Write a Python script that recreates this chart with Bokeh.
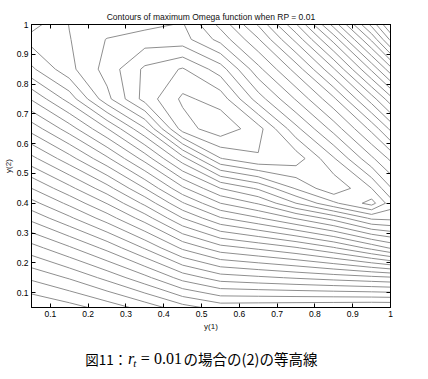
import numpy as np
from bokeh.plotting import figure
from bokeh.layouts import column
from bokeh.models import Range1d, LinearAxis, FixedTicker, Label
from bokeh.embed import file_html
from bokeh.resources import INLINE

# grid of y(1) (columns) and y(2) (rows)
y1_grid = [0.05, 0.15, 0.25, 0.35, 0.45, 0.55, 0.65, 0.75, 0.85, 0.95, 1.0]
y2_grid = [0.05, 0.15, 0.25, 0.35, 0.40, 0.45, 0.55, 0.65, 0.75, 0.85, 0.95, 1.0]

# estimated maximum-Omega values (in contour-level units), one row per y(2)
omega_y2_005 = [29.0, 28.4, 27.6, 26.6, 25.4, 24.6, 24.7, 24.8, 24.9, 25.0, 25.0]
omega_y2_015 = [26.8, 25.9, 24.7, 23.3, 21.6, 20.5, 20.2, 19.9, 19.6, 19.3, 19.15]
omega_y2_025 = [24.4, 23.15, 21.7, 19.9, 17.8, 16.4, 15.8, 15.1, 14.1, 12.7, 11.9]
omega_y2_035 = [21.7, 20.2, 18.5, 16.5, 14.0, 12.1, 11.1, 9.9, 8.6, 6.8, 6.7]
omega_y2_040 = [20.35, 18.75, 16.95, 14.75, 12.1, 10.0, 8.9, 7.0, 5.2, 3.6, 5.5]
omega_y2_045 = [19.0, 17.3, 15.4, 13.0, 10.2, 8.0, 6.85, 4.9, 3.2, 5.0, 6.9]
omega_y2_055 = [16.3, 14.4, 12.2, 9.6, 6.4, 3.05, 2.1, 2.4, 4.9, 7.8, 9.2]
omega_y2_065 = [13.6, 11.5, 9.05, 6.1, 1.5, 0.3, 1.6, 4.7, 7.4, 10.3, 12.2]
omega_y2_075 = [10.9, 8.6, 5.3, 2.6, 0.8, 1.4, 4.5, 7.1, 9.8, 13.5, 15.6]
omega_y2_085 = [8.2, 6.3, 4.6, 2.8, 1.9, 3.5, 6.7, 9.4, 12.9, 17.2, 19.6]
omega_y2_095 = [6.6, 6.05, 4.95, 4.5, 4.6, 6.35, 8.9, 12.3, 16.4, 21.2, 24.2]
omega_y2_100 = [7.4, 5.97, 5.6, 5.3, 4.9, 7.3, 10.1, 13.9, 18.4, 23.3, 26.1]

contour_levels = list(range(1, 30))

tick_values = [0.1, 0.2, 0.3, 0.4, 0.5, 0.6, 0.7, 0.8, 0.9, 1.0]
tick_labels = ["0.1", "0.2", "0.3", "0.4", "0.5", "0.6", "0.7", "0.8", "0.9", "1"]

title_text = "Contours of maximum Omega function when RP = 0.01"
x_label = "y(1)"
y_label = "y(2)"
caption_fig = "図11："
caption_r = "r"
caption_t = "t"
caption_eq = "= 0.01"
caption_rest = "の場合の(2)の等高線"

z = np.array([omega_y2_005, omega_y2_015, omega_y2_025, omega_y2_035, omega_y2_040,
              omega_y2_045, omega_y2_055, omega_y2_065, omega_y2_075, omega_y2_085,
              omega_y2_095, omega_y2_100])

FONT = "Liberation Sans"

p = figure(frame_width=359, frame_height=283,
           x_range=Range1d(0.05, 1.0), y_range=Range1d(0.05, 1.0),
           output_backend="svg", toolbar_location=None,
           min_border_left=24, min_border_right=29, min_border_top=24, min_border_bottom=26,
           background_fill_color="white", border_fill_color="white",
           title=title_text)
p.outline_line_color = "black"
p.grid.visible = False
p.title.align = "center"
p.title.text_font = FONT
p.title.text_font_size = "8.5px"
p.title.text_font_style = "normal"
p.title.text_color = "#111111"
p.title.standoff = 5
p.title.offset = 0

p.contour(x=np.array(y1_grid), y=np.array(y2_grid), z=z, levels=contour_levels,
          line_color="#8f8f8f", line_width=1)

overrides = {v: s for v, s in zip(tick_values, tick_labels)}

def style_axis(ax, show_labels=True):
    ax.ticker = FixedTicker(ticks=tick_values)
    ax.major_tick_in = 4
    ax.major_tick_out = 0
    ax.minor_tick_line_color = None
    ax.axis_line_color = "black"
    ax.major_tick_line_color = "black"
    ax.major_label_overrides = overrides
    if show_labels:
        ax.major_label_text_font = FONT
        ax.major_label_text_font_size = "8.5px"
        ax.major_label_text_color = "#000000"
    else:
        ax.major_label_text_font_size = "1px"
        ax.major_label_text_color = None
        ax.major_label_standoff = 0

style_axis(p.xaxis[0])
style_axis(p.yaxis[0])
p.xaxis[0].major_label_standoff = 3
p.yaxis[0].major_label_standoff = 3
for ax, lab in ((p.xaxis[0], x_label), (p.yaxis[0], y_label)):
    ax.axis_label = lab
    ax.axis_label_text_font = FONT
    ax.axis_label_text_font_size = "8px"
    ax.axis_label_text_font_style = "normal"
    ax.axis_label_text_color = "#111111"
p.xaxis[0].axis_label_standoff = 2
p.yaxis[0].axis_label_standoff = 1

top_axis = LinearAxis()
style_axis(top_axis, show_labels=False)
p.add_layout(top_axis, "above")
right_axis = LinearAxis()
style_axis(right_axis, show_labels=False)
p.add_layout(right_axis, "right")

# caption strip below the chart (pixel-like coordinates)
W = 412
CAP_H = 38
cap = figure(width=W, height=CAP_H, x_range=Range1d(0, W), y_range=Range1d(0, CAP_H),
             output_backend="svg", toolbar_location=None, min_border=0,
             x_axis_location=None, y_axis_location=None,
             background_fill_color="white", border_fill_color="white")
cap.grid.visible = False
cap.outline_line_color = None

cy = 13
cap.add_layout(Label(x=63, y=cy, text=caption_fig, text_align="left", text_baseline="middle",
                     text_font="Noto Sans CJK JP", text_font_size="13.5px", text_color="black"))
cap.add_layout(Label(x=113, y=cy, text=caption_r, text_align="left", text_baseline="middle",
                     text_font="Liberation Serif", text_font_style="italic",
                     text_font_size="16px", text_color="black"))
cap.add_layout(Label(x=119, y=cy - 4, text=caption_t, text_align="left", text_baseline="middle",
                     text_font="Liberation Serif", text_font_style="italic",
                     text_font_size="11px", text_color="black"))
cap.add_layout(Label(x=128, y=cy, text=caption_eq, text_align="left", text_baseline="middle",
                     text_font="Liberation Serif", text_font_size="16px", text_color="black"))
cap.add_layout(Label(x=178, y=cy, text=caption_rest, text_align="left", text_baseline="middle",
                     text_font="Noto Sans CJK JP", text_font_size="14.5px", text_color="black"))

layout = column(p, cap, spacing=0)
open("out.html", "w").write(file_html(layout, INLINE))
